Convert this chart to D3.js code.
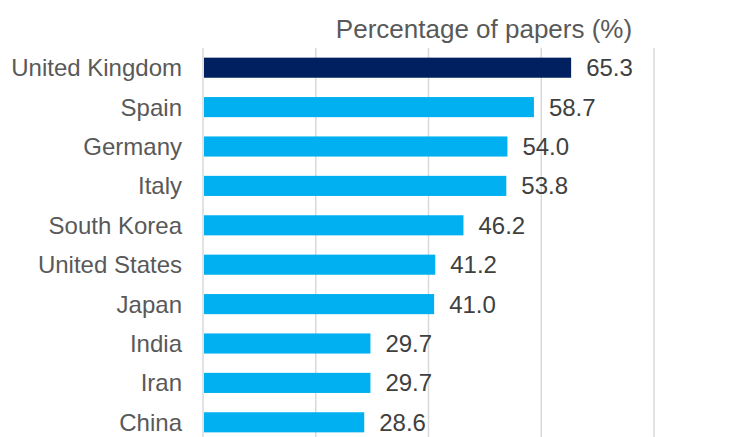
<!DOCTYPE html>
<html><head><meta charset="utf-8">
<script src="https://cdn.jsdelivr.net/npm/d3@7"></script>
<style>body{margin:0;background:#fff}svg{display:block}</style>
</head><body><div id="c"></div>
<script>
const categories = ["United Kingdom","Spain","Germany","Italy","South Korea","United States","Japan","India","Iran","China"];
const values = [65.3,58.7,54.0,53.8,46.2,41.2,41.0,29.7,29.7,28.6];
const xTicks = [0,20,40,60,80];
const highlight = "United Kingdom";
const axisTitle = "Percentage of papers (%)";

const W=756,H=437;
const svg=d3.select("#c").append("svg").attr("width",W).attr("height",H);
const x=d3.scaleLinear().domain([0,80]).range([203,654]);
const y=d3.scaleBand().domain(categories).range([48,442]).paddingInner(0.49).paddingOuter(0.245);
const font="'Liberation Sans', Arial, sans-serif";

svg.append("g").selectAll("line").data(xTicks).join("line")
 .attr("x1",d=>x(d)).attr("x2",d=>x(d)).attr("y1",48).attr("y2",H)
 .attr("stroke","#d9d9d9").attr("stroke-width",1.5);

svg.append("g").selectAll("rect").data(categories).join("rect")
 .attr("x",x(0)+1).attr("y",d=>y(d)).attr("height",y.bandwidth())
 .attr("width",(d,i)=>x(values[i])-x(0)-1)
 .attr("fill",d=>d===highlight?"#002060":"#00b0f0");

svg.append("g").selectAll("text").data(categories).join("text")
 .attr("x",182).attr("y",d=>y(d)+y.bandwidth()/2).attr("dy","0.35em")
 .attr("text-anchor","end").attr("font-family",font).attr("font-size",24)
 .attr("fill","#595959").text(d=>d);

svg.append("g").selectAll("text").data(categories).join("text")
 .attr("x",(d,i)=>x(values[i])+15).attr("y",d=>y(d)+y.bandwidth()/2).attr("dy","0.35em")
 .attr("font-family",font).attr("font-size",24)
 .attr("fill","#404040").text((d,i)=>values[i].toFixed(1));

svg.append("text").attr("x",484).attr("y",38).attr("text-anchor","middle")
 .attr("font-family",font).attr("font-size",26).attr("fill","#595959").text(axisTitle);
</script></body></html>
